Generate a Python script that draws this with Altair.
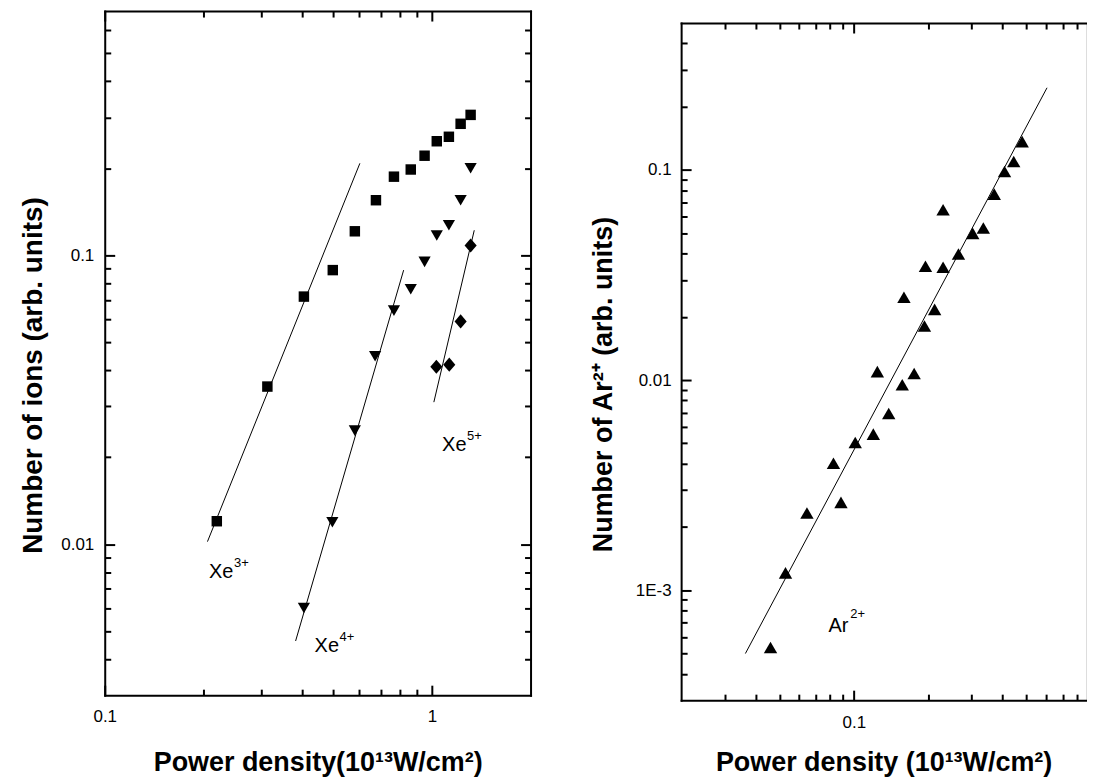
import altair as alt
import pandas as pd

FONT = "Liberation Sans"

# ---------------- Left panel: Xe ions ----------------
xe3_x = [0.220, 0.314, 0.406, 0.4975, 0.581, 0.674, 0.765, 0.861, 0.949, 1.034, 1.126, 1.223, 1.312]
xe3_y = [0.0120, 0.0351, 0.0719, 0.0888, 0.121, 0.155, 0.187, 0.198, 0.221, 0.248, 0.257, 0.285, 0.306]
xe4_x = [0.406, 0.496, 0.581, 0.670, 0.765, 0.861, 0.949, 1.034, 1.126, 1.223, 1.312]
xe4_y = [0.00601, 0.0119, 0.0247, 0.0447, 0.0643, 0.0762, 0.0948, 0.117, 0.127, 0.155, 0.200]
xe5_x = [1.031, 1.129, 1.223, 1.312]
xe5_y = [0.0411, 0.0418, 0.0590, 0.108]

fit3_x = [0.206, 0.602]
fit3_y = [0.0102, 0.208]
fit4_x = [0.383, 0.819]
fit4_y = [0.00462, 0.0888]
fit5_x = [1.013, 1.346]
fit5_y = [0.031, 0.122]

left_lab_main = ["Xe", "Xe", "Xe"]
left_lab_sup = ["3+", "4+", "5+"]
left_lab_x = [0.2083, 0.4378, 1.0735]
left_lab_y = [0.00766, 0.00424, 0.02105]

left_x_major = [0.1, 1]
left_x_minor = [0.2, 0.3, 0.4, 0.5, 0.6, 0.7, 0.8, 0.9]
left_y_major = [0.01, 0.1]
left_y_minor = [0.004, 0.005, 0.006, 0.007, 0.008, 0.009,
                0.02, 0.03, 0.04, 0.05, 0.06, 0.07, 0.08, 0.09,
                0.2, 0.3, 0.4, 0.5, 0.6]

# ---------------- Right panel: Ar2+ ----------------
ar_x = [0.046, 0.0529, 0.0646, 0.0827, 0.0887, 0.1013, 0.1199, 0.1245, 0.1384, 0.157,
        0.1595, 0.1754, 0.1931, 0.1949, 0.2123, 0.2297, 0.2297, 0.2651, 0.3028, 0.3342,
        0.370, 0.4072, 0.4437, 0.480]
ar_y = [0.000534, 0.00121, 0.00233, 0.00402, 0.00262, 0.00505, 0.00553, 0.01097, 0.00694, 0.0095,
        0.0248, 0.01074, 0.0181, 0.0348, 0.0217, 0.0646, 0.0344, 0.0398, 0.0499, 0.0529,
        0.0767, 0.0983, 0.1096, 0.1364]
fitar_x = [0.0364, 0.605]
fitar_y = [0.0005, 0.246]

right_lab_main = ["Ar"]
right_lab_sup = ["2+"]
right_lab_x = [0.0789]
right_lab_y = [0.000634]

right_x_major = [0.1]
right_x_minor = [0.03, 0.04, 0.05, 0.06, 0.07, 0.08, 0.09,
                 0.2, 0.3, 0.4, 0.5, 0.6, 0.7, 0.8]
right_y_major = [0.001, 0.01, 0.1]
right_y_minor = [0.0004, 0.0005, 0.0006, 0.0007, 0.0008, 0.0009,
                 0.002, 0.003, 0.004, 0.005, 0.006, 0.007, 0.008, 0.009,
                 0.02, 0.03, 0.04, 0.05, 0.06, 0.07, 0.08, 0.09,
                 0.2, 0.3, 0.4]

# ---------------- tables ----------------
xe3 = pd.DataFrame({"x": xe3_x, "y": xe3_y})
xe4 = pd.DataFrame({"x": xe4_x, "y": xe4_y})
xe5 = pd.DataFrame({"x": xe5_x, "y": xe5_y})
left_fit = pd.concat([
    pd.DataFrame({"x": fit3_x, "y": fit3_y, "ion": "Xe3+"}),
    pd.DataFrame({"x": fit4_x, "y": fit4_y, "ion": "Xe4+"}),
    pd.DataFrame({"x": fit5_x, "y": fit5_y, "ion": "Xe5+"}),
], ignore_index=True)
left_lab = pd.DataFrame({"x": left_lab_x, "y": left_lab_y, "main": left_lab_main, "sup": left_lab_sup})

ar = pd.DataFrame({"x": ar_x, "y": ar_y})
right_fit = pd.DataFrame({"x": fitar_x, "y": fitar_y, "ion": "Ar2+"})
right_lab = pd.DataFrame({"x": right_lab_x, "y": right_lab_y, "main": right_lab_main, "sup": right_lab_sup})

DIAMOND = "M0,-1L0.86,0L0,1L-0.86,0Z"


def tick_axis(orient, values, size):
    return alt.Axis(orient=orient, values=values, tickSize=size, offset=-size,
                    tickWidth=2, tickColor="black", domain=False, grid=False,
                    labels=False, title=None)


def domain_axis(orient):
    return alt.Axis(orient=orient, values=[], ticks=False, tickSize=0, labels=False,
                    domain=True, domainColor="black", domainWidth=2, domainCap="square",
                    grid=False, title=None)


def label_axis(orient, values, expr, pad, title, tsize, **kw):
    return alt.Axis(orient=orient, values=values, ticks=False, tickSize=0,
                    domain=True, domainColor="black", domainWidth=2, domainCap="square",
                    grid=False, labels=True, labelExpr=expr, labelFont=FONT, labelFontSize=17,
                    labelColor="black", labelPadding=pad, labelFlush=False,
                    labelOverlap=False, title=title, titleFont=FONT,
                    titleFontSize=tsize, titleFontWeight="bold", titleColor="black", **kw)


def panel(series, fit, lab, xs, ys, axes, sup_dx, sup_dy, w, h):
    def X(ax):
        return alt.X("x:Q", scale=xs, axis=ax)

    def Y(ax):
        return alt.Y("y:Q", scale=ys, axis=ax)

    base = series[0][0]
    layers = []
    for ax_x, ax_y in axes:
        layers.append(alt.Chart(base).mark_point(opacity=0).encode(x=X(ax_x), y=Y(ax_y)))
    layers.append(alt.Chart(fit).mark_line(color="black", strokeWidth=1).encode(
        x=X(None), y=Y(None), detail="ion:N"))
    for df, shape, size in series:
        layers.append(alt.Chart(df).mark_point(filled=True, color="black", opacity=1,
                                               shape=shape, size=size).encode(x=X(None), y=Y(None)))
    layers.append(alt.Chart(lab).mark_text(align="left", baseline="alphabetic", font=FONT,
                                           fontSize=20, color="black").encode(
        x=X(None), y=Y(None), text="main:N"))
    layers.append(alt.Chart(lab).mark_text(align="left", baseline="alphabetic", font=FONT,
                                           fontSize=13, color="black", dx=sup_dx, dy=sup_dy).encode(
        x=X(None), y=Y(None), text="sup:N"))
    return alt.layer(*layers).resolve_axis(x="independent", y="independent").properties(width=w, height=h)


# Left panel
lxs = alt.Scale(type="log", domain=[0.1, 2], nice=False)
lys = alt.Scale(type="log", domain=[0.003, 0.7], nice=False)
left_axes = [
    (label_axis("bottom", left_x_major, "datum.value >= 0.5 ? '1' : '0.1'", 13,
                "Power density(10\u00b9\u00b3W/cm\u00b2)", 27, titleY=75.7, titleBaseline="alphabetic"),
     label_axis("left", left_y_major, "datum.value >= 0.05 ? '0.1' : '0.01'", 11,
                "Number of ions (arb. units)", 28, titleX=-63, titleY=365, titleAngle=270,
                titleBaseline="alphabetic")),
    (tick_axis("bottom", left_x_major, 10), tick_axis("left", left_y_major, 10)),
    (tick_axis("bottom", left_x_minor, 6), tick_axis("left", left_y_minor, 6)),
    (tick_axis("top", left_x_major, 10), tick_axis("right", left_y_major, 10)),
    (tick_axis("top", left_x_minor, 6), tick_axis("right", left_y_minor, 6)),
    (domain_axis("top"), domain_axis("right")),
]
left = panel([(xe3, "square", 110), (xe4, "triangle-down", 150), (xe5, DIAMOND, 200)],
             left_fit, left_lab, lxs, lys, left_axes, 25, -11, 427, 686)

# Right panel (its right edge runs off the picture, as in the reference)
rxs = alt.Scale(type="log", domain=[0.02, 0.87], nice=False)
rys = alt.Scale(type="log", domain=[0.0003, 0.5], nice=False)
right_axes = [
    (label_axis("bottom", right_x_major, "'0.1'", 14,
                "Power density (10\u00b9\u00b3W/cm\u00b2)", 27, titleY=70.3, titleBaseline="alphabetic"),
     label_axis("left", right_y_major,
                "datum.value >= 0.05 ? '0.1' : (datum.value >= 0.005 ? '0.01' : '1E-3')", 10,
                "Number of Ar\u00b2\u207a (arb. units)", 27, titleX=-69.7, titleY=362, titleAngle=270,
                titleBaseline="alphabetic")),
    (tick_axis("bottom", right_x_major, 10), tick_axis("left", right_y_major, 10)),
    (tick_axis("bottom", right_x_minor, 6), tick_axis("left", right_y_minor, 6)),
    (tick_axis("top", right_x_major, 10), None),
    (tick_axis("top", right_x_minor, 6), None),
    (domain_axis("top"), None),
]
right = panel([(ar, "triangle-up", 180)], right_fit, right_lab, rxs, rys,
              right_axes, 22, -14, 406, 679)

# invisible spacer that drops the right panel a little lower than the left one
spacer = alt.Chart(pd.DataFrame({"s": [0]})).mark_rect(opacity=0, color="white").encode(
    x=alt.value(0), x2=alt.value(1), y=alt.value(0), y2=alt.value(1)
).properties(width=1, height=10, view=alt.ViewBackground(stroke=None, fill=None))
right_col = alt.vconcat(spacer, right, spacing=0)

chart = alt.hconcat(left, right_col, spacing=56).properties(
    padding={"left": 11, "top": 0, "right": 0, "bottom": 0}
).configure_view(stroke=None).configure(background="white")

chart.save("out.html", embed_options={"renderer": "svg", "actions": False})
